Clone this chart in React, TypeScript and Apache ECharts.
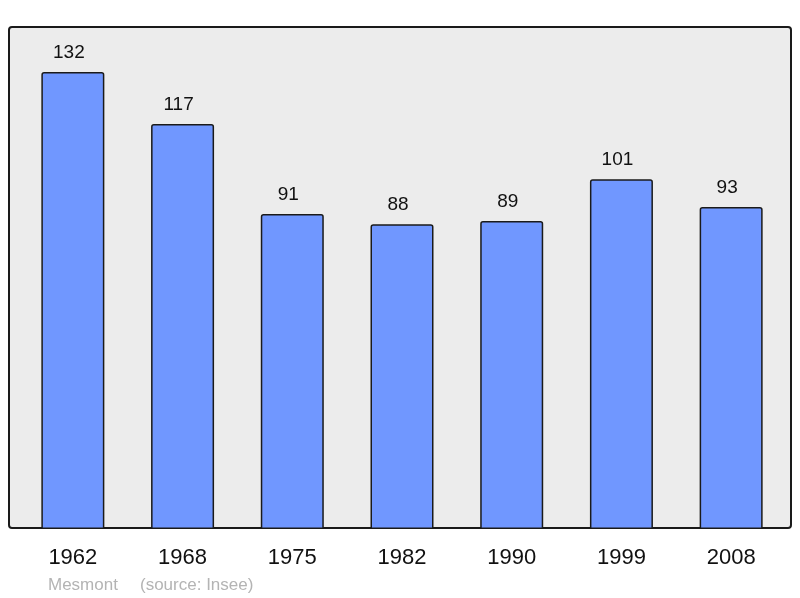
import React, { useEffect, useRef } from "react";
import * as echarts from "echarts";

const years = ["1962", "1968", "1975", "1982", "1990", "1999", "2008"];
const population = [132, 117, 91, 88, 89, 101, 93];
const townName = "Mesmont";
const sourceText = "(source: Insee)";

export default function App() {
  const ref = useRef<HTMLDivElement>(null);
  useEffect(() => {
    if (!ref.current) return;
    const chart = echarts.init(ref.current, undefined, { renderer: "svg" });
    chart.setOption({
      animation: false,
      textStyle: { fontFamily: "Liberation Sans, Arial, sans-serif" },
      graphic: [
        {
          type: "rect",
          z: -10,
          shape: { x: 9, y: 27, width: 782, height: 501, r: 3 },
          style: { fill: "#ececec", stroke: "#1a1a1a", lineWidth: 2 },
        },
        {
          type: "text",
          left: 48,
          top: 576,
          style: {
            text: townName,
            fill: "#b4b4b4",
            font: "17px 'Liberation Sans', Arial, sans-serif",
          },
        },
        {
          type: "text",
          left: 140,
          top: 576,
          style: {
            text: sourceText,
            fill: "#b4b4b4",
            font: "17px 'Liberation Sans', Arial, sans-serif",
          },
        },
      ],
      grid: { left: 18, right: 14, top: 27, bottom: 69 },
      xAxis: {
        type: "category",
        data: years,
        axisLine: { show: false },
        axisTick: { show: false },
        axisLabel: {
          color: "#111",
          fontSize: 22,
          margin: 16,
          fontFamily: "Liberation Sans, Arial, sans-serif",
        },
      },
      yAxis: {
        type: "value",
        min: 0,
        max: 145,
        show: false,
        splitLine: { show: false },
      },
      series: [
        {
          type: "bar",
          data: population,
          barWidth: 63,
          z: 2,
          itemStyle: {
            color: "#7097ff",
            borderColor: "#1a1a1a",
            borderWidth: 1.5,
            borderRadius: [2, 2, 0, 0],
          },
          label: {
            show: true,
            position: "top",
            distance: 11,
            offset: [-4, 0],
            color: "#111",
            fontSize: 19,
            fontFamily: "Liberation Sans, Arial, sans-serif",
          },
        },
      ],
    });
    return () => chart.dispose();
  }, []);
  return <div ref={ref} style={{ width: 800, height: 598, position: "fixed", left: 0, top: 0 }} />;
}
